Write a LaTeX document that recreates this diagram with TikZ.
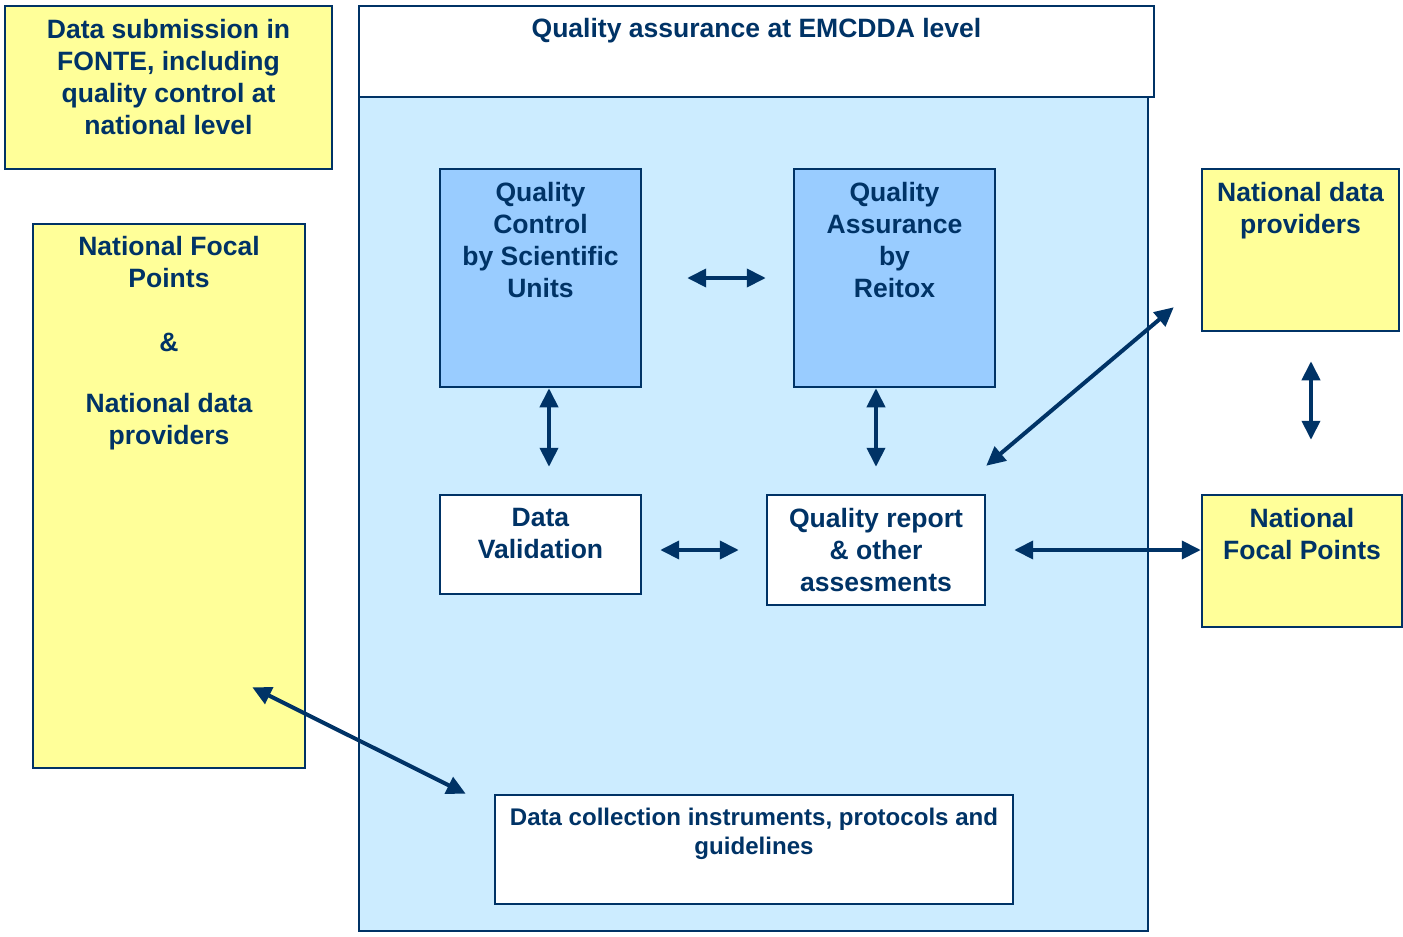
\documentclass[tikz,border=0pt]{standalone}
\usepackage{fontspec}
\setmainfont{Liberation Sans}
\usetikzlibrary{positioning,arrows.meta}

\definecolor{navy}{HTML}{003366}
\definecolor{paleyellow}{HTML}{FFFF99}
\definecolor{paleblue}{HTML}{CCECFF}
\definecolor{midblue}{HTML}{99CCFF}

\tikzset{
  box/.style={draw=navy, line width=0.25mm, inner sep=0pt},
  ybox/.style={box, fill=paleyellow},
  bbox/.style={box, fill=midblue},
  wbox/.style={box, fill=white},
  txt/.style={text=navy, align=center, inner sep=0pt,
    font=\fontsize{7.55pt}{9.1pt}\selectfont\bfseries},
  smalltxt/.style={txt, font=\fontsize{6.85pt}{8.25pt}\selectfont\bfseries},
  both/.style={draw=navy, line width=0.4mm,
    >={Triangle[length=1.9mm,width=1.8mm]}, <->},
}

\begin{document}
\begin{tikzpicture}[x=0.1mm,y=-0.1mm]
\useasboundingbox (0,0) rectangle (1403,937);

% EMCDDA panel with its header
\node[box, fill=paleblue, minimum width=78.9mm, minimum height=83.4mm] (panel) at (753.5,514) {};
\node[wbox, minimum width=79.5mm, minimum height=9.1mm] (emcdda) at (756.5,51.5) {};
\node[txt, below=1.3mm of emcdda.north] (t-emcdda) {Quality assurance at EMCDDA level};

% national level, left
\node[ybox, minimum width=32.7mm, minimum height=16.3mm] (fonte) at (168.5,87.5) {};
\node[txt, below=1.4mm of fonte.north] (t-fonte) {Data submission in\\FONTE, including\\quality control at\\national level};

\node[ybox, minimum width=27.2mm, minimum height=54.4mm] (focal) at (169,496) {};
\node[txt, below=1.3mm of focal.north] (t-focal) {National Focal\\Points\\[9.1pt]\&\\[8.3pt]National data\\providers};

% inside the panel
\node[bbox, minimum width=20.1mm, minimum height=21.8mm] (qc) at (540.5,278) {};
\node[txt, below=1.4mm of qc.north] (t-qc) {Quality\\Control\\by Scientific\\Units};

\node[bbox, minimum width=20.1mm, minimum height=21.8mm] (qa) at (894.5,278) {};
\node[txt, below=1.4mm of qa.north] (t-qa) {Quality\\Assurance\\by\\Reitox};

\node[wbox, minimum width=20.1mm, minimum height=9.9mm] (dv) at (540.5,544.5) {};
\node[txt, below=1.4mm of dv.north] (t-dv) {Data\\Validation};

\node[wbox, minimum width=21.8mm, minimum height=11mm] (qr) at (876,550) {};
\node[txt, below=1.4mm of qr.north] (t-qr) {Quality report\\\& other\\assesments};

\node[wbox, minimum width=51.8mm, minimum height=10.9mm] (dc) at (754,849.5) {};
\node[smalltxt, below=1.4mm of dc.north] (t-dc) {Data collection instruments, protocols and\\guidelines};

% national level, right
\node[ybox, minimum width=19.7mm, minimum height=16.2mm] (ndp) at (1300.5,250) {};
\node[txt, below=1.4mm of ndp.north] (t-ndp) {National data\\providers};

\node[ybox, minimum width=20mm, minimum height=13.2mm] (nfp) at (1302,561) {};
\node[txt, below=1.4mm of nfp.north] (t-nfp) {National\\Focal Points};

% two-way links
\draw[both, shorten <=4.5mm, shorten >=2.7mm] (qc.east) -- (qa.west);
\draw[both, shorten >=2.7mm] ([xshift=0.85mm]qc.south) -- ([xshift=0.85mm]dv.north);
\draw[both, shorten >=2.7mm] (qa.south -| qr.north) -- (qr.north);
\draw[both, shorten <=1.8mm, shorten >=2.7mm] (dv.east |- qr.west) -- (qr.west);
\draw[both, shorten <=2.8mm] (qr.east) -- (qr.east -| nfp.west);
\draw[both] ([yshift=2.8mm]qr.north east) -- ([shift={(-2.7mm,2.5mm)}]ndp.south west);
\draw[both] ([shift={(1.05mm,-2.9mm)}]ndp.south) -- ([shift={(0.9mm,5.4mm)}]nfp.north);
\draw[both] ([shift={(-5.4mm,8.2mm)}]focal.south east) -- ([xshift=-2.8mm]dc.north west);
\end{tikzpicture}
\end{document}
